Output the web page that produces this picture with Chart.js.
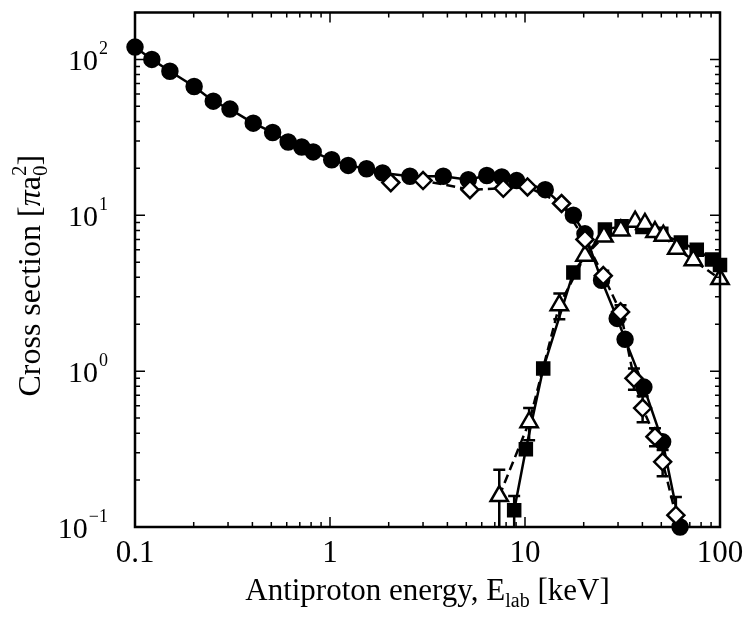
<!DOCTYPE html>
<html><head><meta charset="utf-8">
<script src="https://cdn.jsdelivr.net/npm/chart.js@4"></script>
<style>html,body{margin:0;padding:0;background:#fff}</style>
</head><body>
<canvas id="c" width="747" height="620"></canvas>
<script>
// ---- data ----
const circleE = [0.1,0.122,0.151,0.201,0.252,0.307,0.404,0.508,0.61,0.716,0.82,1.02,1.24,1.54,1.86,2.57,3.81,5.12,6.37,7.6,9.06,12.7,17.7,20.3,24.7,29.7,32.6,40.7,50.8,62.4];
const circleS = [120,100,84,67,54,48,39,34,29.5,27.4,25.5,22.7,20.9,19.9,18.7,17.8,17.8,16.9,18.0,17.6,16.7,14.6,10,7.6,3.83,2.18,1.6,0.79,0.352,0.1];

const diamondE = [2.05,3.0,5.22,7.74,10.3,15.4,20.3,25.2,30.9,36.2,40.1,46.4,50.8,59.4];
const diamondS = [16.2,16.7,14.6,14.9,15.2,11.9,7.0,4.1,2.4,0.9,0.58,0.38,0.262,0.119];
const diamondErr = [0,0,0,0,0,0,0,0.3,0.25,0.14,0.11,0.05,0.05,0.037];

const squareE = [8.8,10.1,12.4,17.7,25.7,31.3,40,50,63,76,91,100];
const squareS = [0.128,0.315,1.04,4.3,8.1,8.5,8.4,7.6,6.7,6.0,5.2,4.8];
const squareErr = [0.03,0,0,0,0,0,0,0,0,0,0,0];

const triE = [7.38,10.5,15.0,20.3,25.4,31,36.7,41.2,46.4,51.2,60,73,100];
const triS = [0.158,0.47,2.65,5.5,7.3,8.0,9.1,8.8,7.8,7.4,6.1,5.15,3.9];
const triErr = [0.075,0.11,0.5,0,0,0,0,0,0,0,0,0,0];

const xTickValues = [0.1,1,10,100];
const xTickLabels = ['0.1','1','10','100'];
const yTickExps = [-1,0,1,2];
const xMin = 0.1, xMax = 100, yMin = 0.1, yMax = 200;

const FONT = '"Liberation Serif", "Times New Roman", serif';
const pts = (E,S) => E.map((e,i)=>({x:e,y:S[i]}));

// ---- plugins ----
function drawRich(ctx, segs, x, y, align) {
  let w = 0;
  segs.forEach(s => { ctx.font = (s.italic?'italic ':'') + s.size + 'px ' + FONT; s.w = ctx.measureText(s.t).width; w += s.adv===0?0:s.w; });
  let cx = align==='center' ? x - w/2 : (align==='right' ? x - w : x);
  segs.forEach(s => {
    ctx.font = (s.italic?'italic ':'') + s.size + 'px ' + FONT;
    ctx.fillText(s.t, cx, y + (s.dy||0));
    if (s.adv!==0) cx += s.w;
  });
}

const errPlugin = {
  id: 'errbars',
  beforeDatasetsDraw(chart) {
    const {ctx, chartArea:a, scales:{x,y}} = chart;
    const sets = [[diamondE,diamondS,diamondErr],[triE,triS,triErr],[squareE,squareS,squareErr]];
    ctx.save();
    ctx.beginPath(); ctx.rect(a.left, a.top, a.right-a.left, a.bottom-a.top); ctx.clip();
    ctx.strokeStyle = '#000'; ctx.lineWidth = 2.5;
    sets.forEach(([E,S,R]) => E.forEach((e,i) => {
      if (!R[i]) return;
      const px = x.getPixelForValue(e);
      const hi = y.getPixelForValue(S[i]+R[i]);
      const lo = y.getPixelForValue(Math.max(S[i]-R[i], 1e-3));
      ctx.beginPath(); ctx.moveTo(px,hi); ctx.lineTo(px,lo);
      ctx.moveTo(px-6,hi); ctx.lineTo(px+6,hi);
      ctx.moveTo(px-6,lo); ctx.lineTo(px+6,lo);
      ctx.stroke();
    }));
    ctx.restore();
  }
};

const framePlugin = {
  id: 'frame',
  afterDraw(chart) {
    const {ctx, chartArea:a, scales:{x,y}} = chart;
    ctx.save();
    ctx.strokeStyle = '#000'; ctx.lineWidth = 2.5;
    ctx.strokeRect(a.left, a.top, a.right-a.left, a.bottom-a.top);
    ctx.lineWidth = 1.5;
    ctx.beginPath();
    for (let d=-1; d<=2; d++) for (let m=1; m<10; m++) {
      const v = m*Math.pow(10,d);
      if (v>=xMin && v<=xMax) {
        const px = x.getPixelForValue(v), L = m===1?10:5;
        ctx.moveTo(px,a.bottom); ctx.lineTo(px,a.bottom-L);
        ctx.moveTo(px,a.top); ctx.lineTo(px,a.top+L);
      }
      if (v>=yMin && v<=yMax) {
        const py = y.getPixelForValue(v), L = m===1?10:5;
        ctx.moveTo(a.left,py); ctx.lineTo(a.left+L,py);
        ctx.moveTo(a.right,py); ctx.lineTo(a.right-L,py);
      }
    }
    ctx.stroke();
    // y tick labels 10^n
    ctx.fillStyle = '#000'; ctx.textBaseline = 'alphabetic';
    yTickExps.forEach(n => {
      const py = y.getPixelForValue(Math.pow(10,n));
      const ex = n<0 ? '\u2212' + (-n) : String(n);
      ctx.font = '18px ' + FONT; const ew = ctx.measureText(ex).width;
      const right = a.left - 27;
      ctx.font = '30px ' + FONT; ctx.textAlign = 'left';
      const bw = ctx.measureText('10').width;
      ctx.fillText('10', right - ew - bw - 1, py + 11);
      ctx.font = '18px ' + FONT;
      ctx.fillText(ex, right - ew, py - 5);
    });
    // axis titles
    ctx.textAlign = 'left';
    drawRich(ctx, [{t:'Antiproton energy, E',size:31},{t:'lab',size:20,dy:7},{t:' [keV]',size:31}], (a.left+a.right)/2, 600, 'center');
    ctx.save();
    ctx.translate(40, (a.top+a.bottom)/2 + 6); ctx.rotate(-Math.PI/2);
    drawRich(ctx, [{t:'Cross section [',size:32},{t:'\u03c0',size:32,italic:true},{t:'a',size:32},{t:'0',size:21,dy:7,adv:0},{t:'2',size:21,dy:-14},{t:']',size:32}], 0, 0, 'center');
    ctx.restore();
    ctx.restore();
  }
};

const common = {borderColor:'#000', borderWidth:2.5, pointBorderColor:'#000', pointBorderWidth:2.5, clip:false, tension:0};

new Chart(document.getElementById('c'), {
  type: 'line',
  data: {
    datasets: [
      {...common, label:'diamonds', data: pts(diamondE,diamondS), borderDash:[9,5], pointStyle:'rectRot', pointRadius:8.5, pointBackgroundColor:'#fff'},
      {...common, label:'triangles', data: pts(triE,triS), borderDash:[9,5], pointStyle:'triangle', pointRadius:10, pointBackgroundColor:'#fff'},
      {...common, label:'circles', data: pts(circleE,circleS), pointStyle:'circle', pointRadius:7.5, pointBackgroundColor:'#000'},
      {...common, label:'squares', data: pts(squareE,squareS), pointStyle:'rect', pointRadius:8.5, pointBackgroundColor:'#000'}
    ]
  },
  options: {
    responsive:false, animation:false, devicePixelRatio:1,
    layout:{padding:{top:12, right:27, left:0, bottom:0}},
    plugins:{legend:{display:false}, tooltip:{enabled:false}},
    scales:{
      x:{type:'logarithmic', min:xMin, max:xMax,
         grid:{display:false, drawTicks:false}, border:{display:false},
         afterBuildTicks: s => { s.ticks = xTickValues.map(v=>({value:v})); },
         afterFit: s => { s.height = 93; s.paddingLeft = 0; s.paddingRight = 0; },
         ticks:{autoSkip:false, maxRotation:0, padding:8, color:'#000', font:{family:FONT, size:31},
                callback: v => { const i = xTickValues.indexOf(v); return i>=0 ? xTickLabels[i] : ''; }}},
      y:{type:'logarithmic', min:yMin, max:yMax,
         grid:{display:false, drawTicks:false}, border:{display:false},
         afterFit: s => { s.width = 135; s.paddingTop = 0; s.paddingBottom = 0; },
         ticks:{display:false}}
    }
  },
  plugins:[errPlugin, framePlugin]
});
</script>
</body></html>
